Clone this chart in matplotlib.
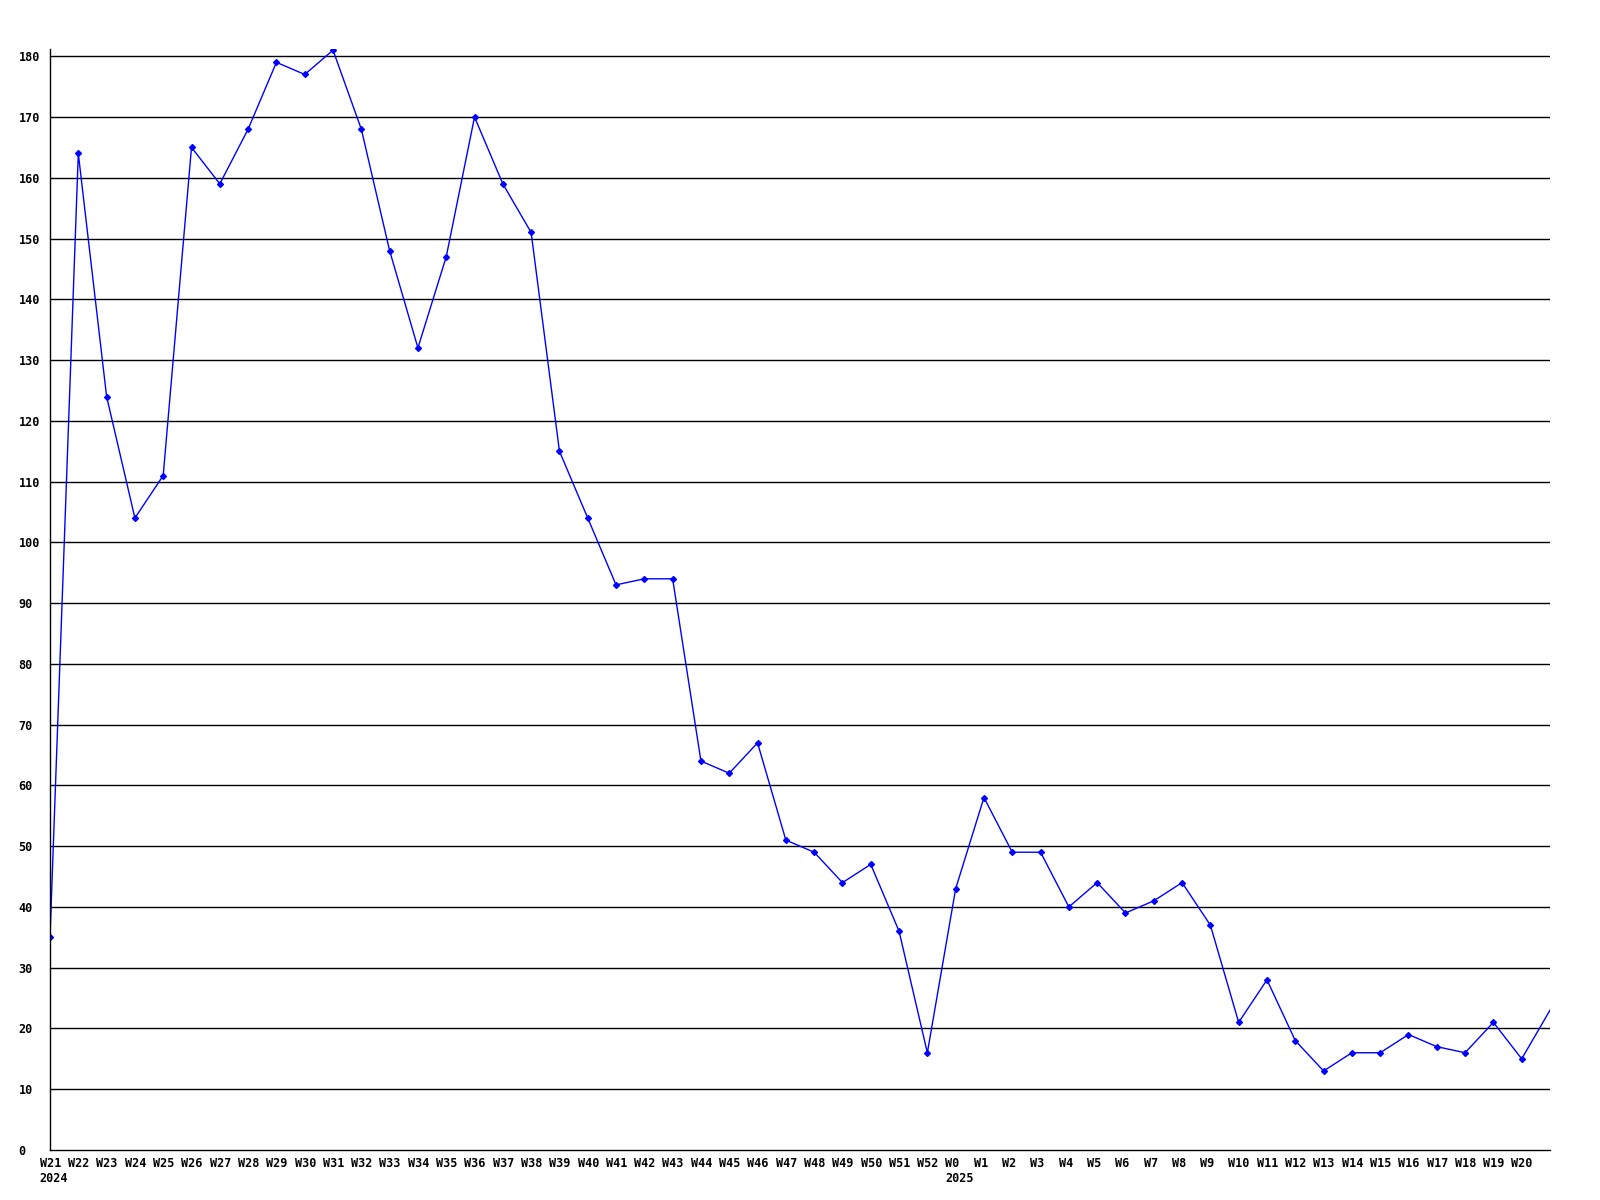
import matplotlib
matplotlib.use("Agg")
import matplotlib.pyplot as plt
import matplotlib.transforms as mtransforms

weeks = ["W21", "W22", "W23", "W24", "W25", "W26", "W27", "W28", "W29", "W30",
         "W31", "W32", "W33", "W34", "W35", "W36", "W37", "W38", "W39", "W40",
         "W41", "W42", "W43", "W44", "W45", "W46", "W47", "W48", "W49", "W50",
         "W51", "W52", "W0", "W1", "W2", "W3", "W4", "W5", "W6", "W7",
         "W8", "W9", "W10", "W11", "W12", "W13", "W14", "W15", "W16", "W17",
         "W18", "W19", "W20"]
years = {0: "2024", 32: "2025"}
values = [35, 164, 124, 104, 111, 165, 159, 168, 179, 177,
          181, 168, 148, 132, 147, 170, 159, 151, 115, 104,
          93, 94, 94, 64, 62, 67, 51, 49, 44, 47,
          36, 16, 43, 58, 49, 49, 40, 44, 39, 41,
          44, 37, 21, 28, 18, 13, 16, 16, 19, 17,
          16, 21, 15]
# next week runs off the right edge of the plot
next_value = 23

font = {"family": "DejaVu Sans Mono", "weight": "bold", "size": 8.5}

fig = plt.figure(figsize=(16, 12), dpi=100)
ax = fig.add_axes([0.03125, 0.0417, 0.9375, 0.9175])

xs = list(range(len(values) + 1))
ys = values + [next_value]
ax.plot(xs, ys, color="#0000ff", lw=1, marker="D", ms=3,
        markevery=list(range(len(values))), clip_on=True)

ax.set_xlim(0, len(values))
ax.set_ylim(0, 181.2)

yticks = list(range(0, 190, 10))
ax.set_yticks(yticks)
ax.set_yticklabels([str(t) for t in yticks], fontdict=font, ha="left")
ax.tick_params(axis="y", length=0, pad=22.7)
for y in yticks[1:]:
    ax.axhline(y, color="black", lw=1, zorder=0)

labels = [w + ("\n" + years[i] if i in years else "") for i, w in enumerate(weeks)]
ax.set_xticks(range(len(weeks)))
ax.set_xticklabels(labels, fontdict=font, ha="left", va="top", linespacing=1.25)
ax.tick_params(axis="x", length=0, pad=5)
shift = mtransforms.ScaledTranslation(-10.2 / 100, 0, fig.dpi_scale_trans)
for lab in ax.get_xticklabels():
    lab.set_transform(lab.get_transform() + shift)

for side in ["top", "right"]:
    ax.spines[side].set_visible(False)
for side in ["left", "bottom"]:
    ax.spines[side].set_color("black")
    ax.spines[side].set_linewidth(1)

fig.savefig("out.png", dpi=100)
